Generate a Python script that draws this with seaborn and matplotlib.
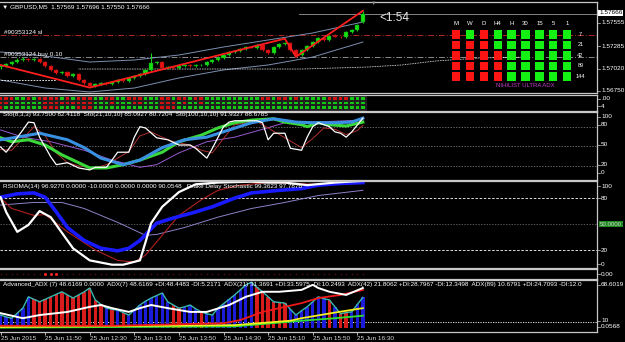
import matplotlib
matplotlib.use("Agg")
import matplotlib.pyplot as plt
from matplotlib.colors import ListedColormap
import numpy as np
import pandas as pd
import seaborn as sns

# ---------------- data ----------------
opens = [1.57030,1.57046,1.57070,1.57093,1.57117,1.57129,1.57117,1.57129,1.57093,1.57046,
         1.56999,1.56963,1.56975,1.56928,1.56951,1.56880,1.56845,1.56809,1.56833,1.56845,
         1.56833,1.56856,1.56880,1.56868,1.56904,1.56928,1.56951,1.56999,1.57081,1.57093,
         1.57022,1.57034,1.57022,1.57046,1.57058,1.57046,1.57052,1.57058,1.57093,1.57117,
         1.57141,1.57176,1.57212,1.57223,1.57247,1.57271,1.57265,1.57294,1.57235,1.57200,
         1.57271,1.57306,1.57318,1.57235,1.57176,1.57235,1.57283,1.57330,1.57377,1.57354,
         1.57401,1.57395,1.57389,1.57448,1.57472,1.57569]
closes = [1.57046,1.57070,1.57093,1.57117,1.57129,1.57117,1.57129,1.57093,1.57046,1.56999,
          1.56963,1.56975,1.56928,1.56951,1.56880,1.56845,1.56809,1.56833,1.56845,1.56833,
          1.56856,1.56880,1.56868,1.56904,1.56928,1.56951,1.56999,1.57081,1.57093,1.57022,
          1.57034,1.57022,1.57046,1.57058,1.57046,1.57052,1.57058,1.57093,1.57117,1.57141,
          1.57176,1.57212,1.57223,1.57247,1.57271,1.57265,1.57294,1.57235,1.57200,1.57271,
          1.57306,1.57318,1.57235,1.57176,1.57235,1.57283,1.57330,1.57377,1.57354,1.57401,
          1.57395,1.57389,1.57448,1.57472,1.57531,1.57666]
highs = [1.57061,1.57085,1.57110,1.57135,1.57150,1.57145,1.57140,1.57140,1.57100,1.57060,
         1.57010,1.56990,1.56985,1.56965,1.56960,1.56890,1.56855,1.56845,1.56860,1.56855,
         1.56870,1.56890,1.56890,1.56915,1.56940,1.56965,1.57015,1.57200,1.57110,1.57100,
         1.57050,1.57045,1.57060,1.57075,1.57070,1.57065,1.57070,1.57105,1.57130,1.57160,
         1.57190,1.57225,1.57240,1.57260,1.57285,1.57285,1.57310,1.57305,1.57245,1.57285,
         1.57320,1.57335,1.57330,1.57245,1.57245,1.57295,1.57345,1.57390,1.57385,1.57415,
         1.57420,1.57405,1.57460,1.57490,1.57545,1.57696]
lows = [1.57015,1.57035,1.57060,1.57080,1.57105,1.57105,1.57105,1.57085,1.57035,1.56985,
        1.56950,1.56950,1.56910,1.56915,1.56870,1.56830,1.56795,1.56800,1.56820,1.56820,
        1.56820,1.56845,1.56855,1.56855,1.56890,1.56915,1.56940,1.56985,1.57065,1.57010,
        1.57010,1.57010,1.57010,1.57035,1.57035,1.57035,1.57040,1.57045,1.57080,1.57105,
        1.57130,1.57165,1.57200,1.57210,1.57235,1.57255,1.57250,1.57225,1.57185,1.57190,
        1.57260,1.57295,1.57225,1.57165,1.57165,1.57225,1.57270,1.57320,1.57340,1.57345,
        1.57385,1.57375,1.57380,1.57435,1.57460,1.57550]

zz_x = [0, 16, 51, 53, 65]
zz_p = [1.57058, 1.56790, 1.57370, 1.57155, 1.57700]

band_x = [0, 8, 16, 24, 32, 40, 48, 56, 65]
band_up = [1.57212, 1.57164, 1.57093, 1.57117, 1.57176, 1.57271, 1.57354, 1.57437, 1.57567]
band_lo = [1.56880, 1.56785, 1.56738, 1.56785, 1.56904, 1.56999, 1.57058, 1.57152, 1.57330]

piv1_x = [0, 10]
piv1_p = [1.56880, 1.56880]
piv2_x = [14, 54, 60, 66, 72, 78, 86, 95]
piv2_p = [1.57010, 1.57010, 1.57022, 1.57034, 1.57058, 1.57105, 1.57141, 1.57152]

sl_price = 1.57413
buy_price = 1.57152
bid_price = 1.57666

# multi timeframe grid
mtf_cols = ["M", "W", "D", "H4", "H", "30", "15", "5", "1"]
mtf_rows = ["7", "21", "42", "89", "144"]
mtf_state = [[0, 1, 0, 1, 1, 1, 1, 1, 1],
             [0, 0, 0, 1, 1, 1, 1, 1, 1],
             [0, 0, 0, 0, 1, 1, 1, 1, 1],
             [0, 0, 0, 0, 1, 1, 1, 1, 1],
             [0, 0, 0, 0, 1, 1, 1, 1, 1]]

# stripe indicator (1 = green, 0 = red)
stripe_r0 = [0,0,0, 1,1,0,1, 0,0,0,0,1,0, 1,0,0,0, 1,1,0,0,1,1, 0,0,0,1,1,1, 0,0,1,0,0,
             1,0,0,1, 1,1,1,1,1,1,1,1,1, 0,0,1,0,0,1, 0, 1,1,1,1,1, 0,0,0,0, 1,1,1]
stripe_r1 = [0,0,1, 1,1,1,1, 1,0,0,0,0,0, 0,0,0,0, 1,1,1,0,1,1, 1,0,0,1,1,1, 0,0,0,1,0,
             1,1,0,1, 1,1,1,1,1,1,1,1,1, 1,1,1,1,1,1, 1, 1,1,1,1,1, 1,1,1,1, 1,1,1]
stripe_r2 = [0,1,1, 1,1,1,1, 1,0,0,0,1,1, 1,0,0,0, 1,1,1,1,1,1, 1,1,1,1,1,1, 0,0,0,1,1,
             1,1,1,1, 1,1,1,1,1,1,1,1,1, 1,1,1,1,1,1, 1, 1,1,1,1,1, 1,1,1,1, 1,1,1]

# stochastic panel
s8_x = [0,1,2,4,5,6,7,9,10,12,14,16,17,19,20,21,23,24,25,26,28,30,32,34,35,37,38,40,41,42,
        46,47,48,49,51,52,54,55,56,57,59,60,61,62,63,65]
s8_v = [49,41,52,75,87,86,64,34,22,25,17,14,18,18,29,41,41,64,80,78,63,60,52,52,47,32,47,80,87,89,
        89,86,60,70,70,47,44,64,80,86,80,72,70,64,72,93]
sig_x = [0,2,4,6,8,10,12,14,17,19,21,23,25,27,29,31,34,36,38,40,42,46,48,50,52,54,56,58,60,62,64,65]
sig_v = [45,44,62,80,66,40,25,20,17,22,32,42,66,72,64,57,52,44,40,62,83,88,78,68,58,48,62,78,76,68,74,82]
s21_x = [0,2,5,8,11,13,16,19,22,25,29,32,36,39,42,45,49,51,54,55,57,59,62,63,65]
s21_v = [63,57,60,52,37,29,17,17,22,29,41,57,67,78,86,90,92,87,83,80,86,83,81,83,87]
s100_x = [0,3,7,12,15,18,22,25,29,33,37,41,45,49,53,56,60,63,65]
s100_v = [60,64,70,60,48,32,22,29,48,60,64,75,86,92,87,86,86,87,93]
s100s_x = [0,4,9,15,20,25,28,32,37,42,47,51,56,65]
s100s_v = [75,64,57,44,29,18,22,40,57,64,76,86,87,90]

# RSIOMA panel
rw_x = [0,1,3,5,7,9,11,13,16,20,22,25,26,27,29,32,35,39,45,48,51,55,60,65]
rw_v = [81,64,41,49,65,58,40,22,8,3,3,8,29,51,70,87,96,98,99,98,98,95,98,100]
rb_x = [0,3,6,8,10,12,15,18,21,23,25,28,31,35,38,42,45,50,54,57,61,65]
rb_v = [81,85,86,81,64,46,31,22,19,22,31,51,57,64,70,80,86,89,91,95,97,98]
rr_x = [0,2,6,8,12,17,21,24,26,29,32,36,39,43,48,53,56,65]
rr_v = [80,68,60,61,41,20,8,6,14,37,60,78,89,95,98,97,96,98]
rp_x = [0,6,11,15,21,26,28,33,39,45,51,57,65]
rp_v = [72,75,75,68,52,37,38,46,58,68,75,83,89]

# dots panel
dots_on = [8, 9, 10]

# ADX panel
adx7 = [21,18,16,24,32,50,46,42,46,50,54,58,53,48,53,58,64,45,38,32,
        30,29,25,21,29,37,43,48,52,56,42,37,32,34,37,31,26,23,21,32,
        39,46,53,61,69,73,65,58,50,42,41,40,30,21,28,34,42,50,47,45,
        34,23,25,26,38,49]
adx_dir = list("bbbbbb" "rrrrrrrrrrrr" "rbrbr" "bbbbbbb" "brrb" "bbrb" "bbbbbbbb"
               "rrrrrr" "bbbbbbb" "r" "b" "rr" "bbb")
aw_x = [0,4,7,12,16,18,20,23,25,27,30,34,37,41,44,47,50,54,56,57,59,62,65]
aw_v = [24,16,21,26,34,37,32,26,32,37,32,26,26,37,50,58,58,61,69,64,58,53,64]
ar_x = [0,20,40,43,47,50,54,57,61,65]
ar_v = [4,4,8,13,26,32,40,48,53,61]
ay_x = [0,42,52,54,60,65]
ay_v = [2,5,12,16,25,32]
al_x = [0,42,54,60,65]
al_v = [1,3,12,16,20]

time_ticks = [0, 8, 16, 24, 32, 40, 48, 56, 64]
time_labels = ["25 Jun 2015", "25 Jun 11:50", "25 Jun 12:30", "25 Jun 13:10", "25 Jun 13:50",
               "25 Jun 14:30", "25 Jun 15:10", "25 Jun 15:50", "25 Jun 16:30"]

# ---------------- style ----------------
plt.rcParams['font.family'] = ['Liberation Sans', 'DejaVu Sans']
W, H = 625, 342
FS = 4.6
BORDER = '#c8c8c8'
GREEN = '#14e014'
RED = '#e81414'
XL = (-0.1, 107.0)

fig = plt.figure(figsize=(6.25, 3.42), dpi=100, facecolor='black')


def px_axes(x0, y0, x1, y1):
    return fig.add_axes([x0 / W, 1 - y1 / H, (x1 - x0) / W, (y1 - y0) / H])


def style(ax, xl=XL):
    ax.set_facecolor('black')
    for s in ['top', 'bottom', 'right']:
        ax.spines[s].set_visible(True)
        ax.spines[s].set_color(BORDER)
        ax.spines[s].set_linewidth(0.9)
    ax.spines['left'].set_visible(False)
    ax.set_xticks([])
    ax.set_yticks([])
    ax.set_xlabel('')
    ax.set_ylabel('')
    ax.set_xlim(*xl)


# ---------------- main price panel ----------------
axm = px_axes(0, 2, 597, 93)
o = np.array(opens); c = np.array(closes); h = np.array(highs); l = np.array(lows)
xs = np.arange(len(c))
cols = np.where(c >= o, GREEN, RED)
axm.vlines(xs, l, h, colors=cols, lw=0.7, zorder=3)
body = np.maximum(np.abs(c - o), 0.00005)
axm.bar(xs, body, bottom=np.minimum(o, c), width=0.74, color=cols,
        edgecolor=np.where(c >= o, '#0a8a0a', '#8a0a0a'), linewidth=0.3, zorder=4)
sns.lineplot(x=band_x, y=band_up, ax=axm, color='#7d8fb0', lw=0.7, zorder=2)
sns.lineplot(x=band_x, y=band_lo, ax=axm, color='#7d8fb0', lw=0.7, zorder=2)
sns.lineplot(x=zz_x, y=zz_p, ax=axm, color='#ff1e1e', lw=1.3, zorder=5)
sns.lineplot(x=piv1_x, y=piv1_p, ax=axm, color='white', lw=0.6, linestyle=(0, (2, 1.5)), zorder=2)
sns.lineplot(x=piv2_x, y=piv2_p, ax=axm, color='white', lw=0.6, linestyle=(0, (1, 1)), zorder=2)
axm.axhline(sl_price, color='#b02828', lw=0.7, ls=(0, (6, 2, 1, 2)), zorder=1)
axm.axhline(buy_price, color='#8a8a8a', lw=0.7, ls=(0, (6, 2, 1, 2)), zorder=1)
axm.axhline(bid_price, xmin=0.5, color='#9a9a9a', lw=0.6, zorder=1)
style(axm)
axm.set_ylim(1.56726, 1.57804)
axm.text(0.6, sl_price + 0.00004, "#90353124 sl", color='white', fontsize=FS, va='bottom')
axm.text(0.6, buy_price + 0.00004, "#90353124 buy 0.10", color='white', fontsize=FS, va='bottom')

# multi-timeframe squares
axq = px_axes(442, 18, 596, 92)
sq = pd.DataFrame([(ci, ri, v) for ri, row in enumerate(mtf_state) for ci, v in enumerate(row)],
                  columns=['col', 'row', 'state'])
sns.scatterplot(data=sq, x='col', y='row', hue='state', palette={0: '#ff1414', 1: '#14f014'},
                marker='s', s=36, linewidth=0, legend=False, ax=axq)
axq.set_xlim(-1.007, 10.07)
axq.set_ylim(5.476, -1.571)
axq.set_axis_off()
for ci, name in enumerate(mtf_cols):
    axq.text(ci, -1.0, name, color='white', fontsize=FS - 0.3, ha='center', va='center')
for ri, name in enumerate(mtf_rows):
    axq.text(8.95, ri, name, color='white', fontsize=FS - 0.6, ha='center', va='center')
axq.text(5.0, 4.9, "NIHILIST ULTRA ADX", color='#c040c8', fontsize=4.3, ha='center', va='center')

# ---------------- stripe panel ----------------
axs = px_axes(0, 95, 597, 111)
sns.heatmap(np.array([stripe_r0, stripe_r1, stripe_r2]), ax=axs,
            cmap=ListedColormap(['#d41010', '#12c812']), vmin=0, vmax=1, cbar=False,
            linewidths=0.15, linecolor='#202020', xticklabels=False, yticklabels=False)
style(axs, (XL[0] + 0.5, XL[1] + 0.5))
axs.set_ylim(3.2, -0.2)

# ---------------- stochastic panel ----------------
axt = px_axes(0, 112, 597, 180)
for lev in (80, 50, 20):
    axt.axhline(lev, color='#8a8a8a', lw=0.5, ls=(0, (2, 2)), zorder=1)
sns.lineplot(x=s100s_x, y=s100s_v, ax=axt, color='#9a5ad0', lw=0.7)
sns.lineplot(x=sig_x, y=sig_v, ax=axt, color='#b03030', lw=0.7)
sns.lineplot(x=s21_x, y=s21_v, ax=axt, color='#3ad83a', lw=2.2)
sns.lineplot(x=s100_x, y=s100_v, ax=axt, color='#3a90e0', lw=2.2)
sns.lineplot(x=s8_x, y=s8_v, ax=axt, color='white', lw=0.9)
style(axt)
axt.set_ylim(-1.4, 102.4)
axt.text(0.4, 98, "Sto(8,3,3) 93.7500 82.4118  Sto(21,10,10) 85.0927 80.7204  Sto(100,10,10) 91.9327 88.6785",
         color='white', fontsize=FS, va='center', clip_on=True)

# ---------------- RSIOMA panel ----------------
axr = px_axes(0, 181, 597, 268)
axr.axhline(80, color='white', lw=0.6, ls=(0, (3, 2)), zorder=1)
axr.axhline(20, color='white', lw=0.6, ls=(0, (3, 2)), zorder=1)
axr.axhline(50, color='#7a7a7a', lw=0.5, ls=(0, (2, 2)), zorder=1)
sns.lineplot(x=rp_x, y=rp_v, ax=axr, color='#9080c8', lw=0.7)
sns.lineplot(x=rr_x, y=rr_v, ax=axr, color='#b02020', lw=0.8)
sns.lineplot(x=rb_x, y=rb_v, ax=axr, color='#1a1aff', lw=2.6)
sns.lineplot(x=rw_x, y=rw_v, ax=axr, color='white', lw=1.6)
style(axr)
axr.set_ylim(-0.8, 99.8)
axr.text(0.4, 93.5, "RSIOMA(14) 96.9270 0.0000 -10.0000 0.0000 0.0000 90.0548   Drake Delay Stochastic 99.3623 97.7876",
         color='white', fontsize=FS, va='center', clip_on=True)

# ---------------- dots panel ----------------
axd = px_axes(0, 269, 597, 279)
sns.scatterplot(x=xs, y=np.zeros(len(xs)), ax=axd, color='#4a0c0c', s=1.5, linewidth=0, legend=False)
sns.scatterplot(x=dots_on, y=[0] * len(dots_on), ax=axd, color='#ff2020', s=5, linewidth=0, legend=False)
style(axd)
axd.set_ylim(-1, 1)

# ---------------- ADX panel ----------------
axa = px_axes(0, 280, 597, 332)
axa.bar(xs, adx7, width=0.6, color=['#1c1cd8' if d == 'b' else '#d81c1c' for d in adx_dir], zorder=2)
sns.lineplot(x=xs, y=adx7, ax=axa, color='#3ab8b0', lw=1.0, zorder=3)
sns.lineplot(x=al_x, y=al_v, ax=axa, color='#30e030', lw=1.3, zorder=4)
sns.lineplot(x=ay_x, y=ay_v, ax=axa, color='#f0f020', lw=1.3, zorder=4)
sns.lineplot(x=ar_x, y=ar_v, ax=axa, color='#f01818', lw=1.3, zorder=4)
sns.lineplot(x=aw_x, y=aw_v, ax=axa, color='white', lw=1.4, zorder=5)
axa.axhline(10, color='white', lw=0.6, ls=(0, (1.5, 1.5)), zorder=1)
style(axa)
axa.set_ylim(-5.9, 76.7)
axa.text(0.4, 69, "Advanced_ADX (7) 48.6169 0.0000  ADX(7) 48.6169 +DI:48.4483 -DI:5.2171  ADX(21) 31.3691 "
         "+DI:33.5975 -DI:10.2493  ADX(42) 21.8062 +DI:28.7967 -DI:12.3498  ADX(89) 10.6791 +DI:24.7093 -DI:12.0",
         color='white', fontsize=FS, va='center', clip_on=True, zorder=6)
axa.set_xticks(time_ticks)
axa.set_xticklabels(time_labels, ha='left')
axa.tick_params(axis='x', colors='#d8d8d8', labelsize=FS, length=2, width=0.6, pad=1.2)

# ---------------- overlay texts (pixel coords) ----------------
axo = fig.add_axes([0, 0, 1, 1])
axo.set_xlim(0, W)
axo.set_ylim(H, 0)
axo.set_axis_off()
axo.patch.set_alpha(0)
axo.text(2, 7, "\u25bc GBPUSD,M5  1.57569 1.57696 1.57550 1.57666", color='white', fontsize=FS, va='center')
axo.text(374, 3, "\u25bc", color='#909090', fontsize=4, ha='center', va='center')
axo.text(379, 18, "<1:54", color='#e8e8e8', fontsize=8.5, va='center')
axo.text(599, 13, "1.57666", color='black', fontsize=FS, va='center',
         bbox=dict(boxstyle='square,pad=0.12', fc='white', ec='none'))
right_labels = [("1.57555", 23), ("1.57285", 46), ("1.57020", 69), ("1.56750", 91),
                (".00", 99), ("4", 106),
                ("100", 117), ("80", 125), ("50", 145), ("20", 165), ("0", 173),
                ("100", 186), ("80", 198), ("20", 250), ("0", 264),
                ("0.00", 274), ("68.6019", 285), ("10", 321), ("0.0568", 327)]
for txt, yy in right_labels:
    axo.text(601, yy, txt, color='white', fontsize=FS, va='center')
    axo.plot([597, 600], [yy, yy], color='#c8c8c8', lw=0.5)
axo.text(600, 224, "50.0000", color='#d0d0d0', fontsize=FS - 0.2, va='center',
         bbox=dict(boxstyle='square,pad=0.12', fc='#1f8a1f', ec='none'))

fig.savefig("out.png", dpi=100, facecolor='black')
